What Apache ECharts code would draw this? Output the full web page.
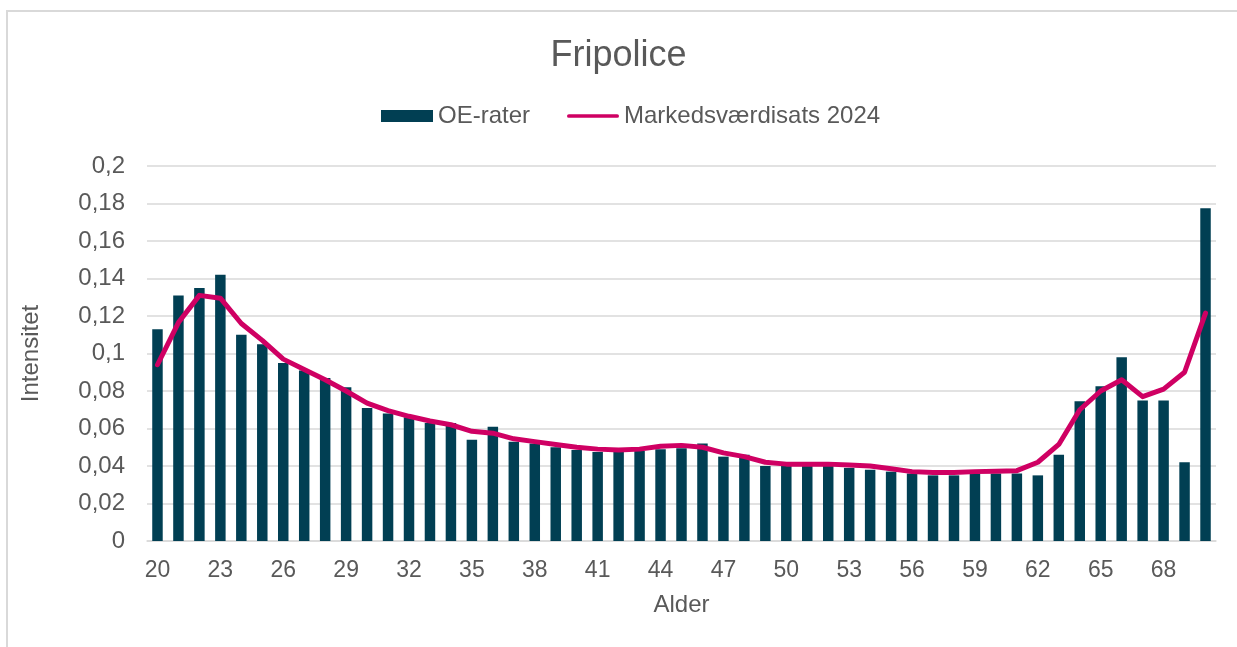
<!DOCTYPE html>
<html>
<head>
<meta charset="utf-8">
<script src="https://cdn.jsdelivr.net/npm/echarts@6/dist/echarts.min.js"></script>
<style>
  html, body { margin: 0; padding: 0; background: #fff; }
  #chart { width: 1237px; height: 647px; }
</style>
</head>
<body>
<div id="chart"></div>
<script>
// Alder (x axis categories)
const ages = [
  "20", "21", "22", "23", "24", "25", "26", "27", "28", "29",
  "30", "31", "32", "33", "34", "35", "36", "37", "38", "39",
  "40", "41", "42", "43", "44", "45", "46", "47", "48", "49",
  "50", "51", "52", "53", "54", "55", "56", "57", "58", "59",
  "60", "61", "62", "63", "64", "65", "66", "67", "68", "69", "70"
];

// OE-rater (bars)
const oeRater = [
  0.113, 0.131, 0.135, 0.142, 0.110, 0.105, 0.095, 0.091, 0.087, 0.082,
  0.071, 0.068, 0.066, 0.063, 0.063, 0.054, 0.061, 0.053, 0.052, 0.050,
  0.0485, 0.0475, 0.0475, 0.048, 0.049, 0.0495, 0.052, 0.045, 0.046, 0.040,
  0.040, 0.040, 0.040, 0.039, 0.038, 0.037, 0.036, 0.035, 0.035, 0.036,
  0.036, 0.036, 0.035, 0.046, 0.0745, 0.0825, 0.098, 0.075, 0.075, 0.042, 0.1775
];

// Markedsværdisats 2024 (line)
const markedsvaerdi = [
  0.094, 0.1165, 0.131, 0.1295, 0.116, 0.107, 0.097, 0.0915, 0.086, 0.080,
  0.0735, 0.0695, 0.0665, 0.064, 0.062, 0.0585, 0.0575, 0.0545, 0.053, 0.0515,
  0.050, 0.049, 0.0485, 0.049, 0.0505, 0.051, 0.050, 0.047, 0.045, 0.042,
  0.041, 0.041, 0.041, 0.0405, 0.040, 0.0385, 0.037, 0.0365, 0.0365, 0.037,
  0.0372, 0.0375, 0.042, 0.0515, 0.070, 0.080, 0.086, 0.077, 0.081, 0.090, 0.1215
];

const textColor = "#595959";
const gridColor = "#d9d9d9";
const barColor = "#013f53";
const lineColor = "#cf0063";
const font = "'Liberation Sans', Arial, sans-serif";

const myChart = echarts.init(document.getElementById("chart"));

const option = {
  animation: false,
  textStyle: { fontFamily: font },
  title: {
    text: "Fripolice",
    left: "center",
    top: 33,
    textStyle: { fontFamily: font, fontSize: 36, fontWeight: "normal", color: textColor },
  },
  legend: {
    left: 376,
    top: 99,
    itemWidth: 52,
    itemHeight: 12,
    itemGap: 37,
    textStyle: { fontFamily: font, fontSize: 24, color: textColor },
    data: [
      { name: "OE-rater", icon: "rect" },
      // plain thick line, no marker
      { name: "Markedsværdisats 2024", icon: "path://M2,0H54A2,2 0 0 1 54,4H2A2,2 0 0 1 2,0Z" },
    ],
  },
  grid: {
    left: 147,
    right: 21,
    top: 166,
    bottom: 106,
  },
  // light frame along top and left edge
  graphic: [
    { type: "line", shape: { x1: 6, y1: 11, x2: 1237, y2: 11 }, style: { stroke: gridColor, lineWidth: 2 } },
    { type: "line", shape: { x1: 7, y1: 10, x2: 7, y2: 647 }, style: { stroke: gridColor, lineWidth: 2 } },
  ],
  xAxis: {
    type: "category",
    data: ages,
    name: "Alder",
    nameLocation: "middle",
    nameGap: 52,
    nameTextStyle: { fontFamily: font, fontSize: 24, color: textColor },
    axisLine: { lineStyle: { color: gridColor, width: 1.5 } },
    axisTick: { interval: 2, length: 6, lineStyle: { color: gridColor, width: 1.5 } },
    axisLabel: { interval: 2, margin: 18, fontFamily: font, fontSize: 23, color: textColor },
  },
  yAxis: {
    type: "value",
    min: 0,
    max: 0.2,
    interval: 0.02,
    name: "Intensitet",
    nameLocation: "middle",
    nameGap: 104,
    nameTextStyle: { fontFamily: font, fontSize: 24, color: textColor },
    axisLine: { show: false },
    axisTick: { show: false },
    splitLine: { lineStyle: { color: gridColor, width: 1.5 } },
    axisLabel: {
      margin: 22,
      fontFamily: font,
      fontSize: 24,
      color: textColor,
      formatter: (v) => String(+v.toFixed(2)).replace(".", ","),
    },
  },
  series: [
    {
      name: "OE-rater",
      type: "bar",
      barWidth: "50%",
      itemStyle: { color: barColor },
      data: oeRater,
    },
    {
      name: "Markedsværdisats 2024",
      type: "line",
      symbol: "none",
      lineStyle: { color: lineColor, width: 5, cap: "round", join: "round" },
      itemStyle: { color: lineColor },
      data: markedsvaerdi,
    },
  ],
};

myChart.setOption(option);
</script>
</body>
</html>
